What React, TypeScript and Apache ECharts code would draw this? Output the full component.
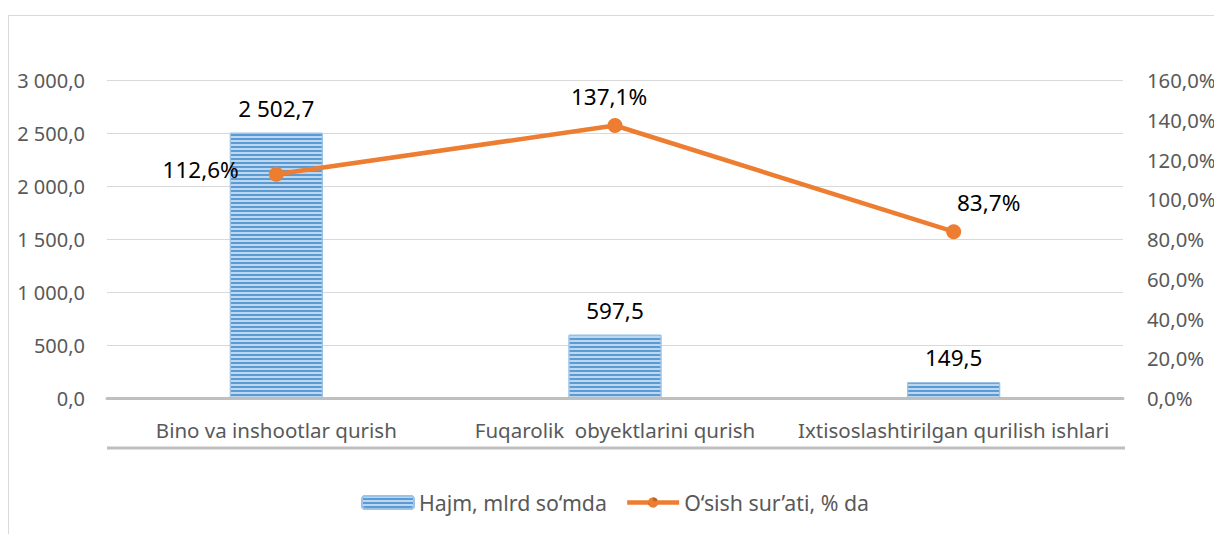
import React, { useEffect, useRef } from "react";
import * as echarts from "echarts";

const categories = [
  "Bino va inshootlar qurish",
  "Fuqarolik  obyektlarini qurish",
  "Ixtisoslashtirilgan qurilish ishlari",
];
const volumeValues = [2502.7, 597.5, 149.5];
const growthValues = [112.6, 137.1, 83.7];
const seriesNames = ["Hajm, mlrd so‘mda", "O‘sish sur’ati, % da"];

const FONT = "'Noto Sans', sans-serif";

function fmt(v: number, d: number): string {
  const s = Math.abs(v).toFixed(d);
  const [ip, dp] = s.split(".");
  const withSp = ip.replace(/\B(?=(\d{3})+(?!\d))/g, " ");
  return (v < 0 ? "-" : "") + withSp + (dp !== undefined ? "," + dp : "");
}

export default function App() {
  const ref = useRef<HTMLDivElement>(null);
  useEffect(() => {
    if (!ref.current) return;
    const chart = echarts.init(ref.current, undefined, { renderer: "svg" });
    const lineOffsets: [number, number][] = [[0, -5], [-6, 0], [35, 0]];
    const linePositions = ["left", "top", "top"];
    chart.setOption({
      animation: false,
      aria: { enabled: true, decal: { show: true } },
      textStyle: { fontFamily: FONT },
      grid: { left: 99, right: 99, top: 72, bottom: 136, containLabel: false },
      legend: {
        top: 479,
        left: "center",
        itemWidth: 52,
        itemHeight: 13,
        itemGap: 18,
        textStyle: { fontSize: 21.3, color: "#595959", fontFamily: FONT },
        data: [
          { name: seriesNames[0] },
          { name: seriesNames[1], lineStyle: { width: 4.5, color: "#ed7d31" } },
        ],
      },
      xAxis: {
        type: "category",
        data: categories,
        axisLine: { lineStyle: { color: "#bfbfbf", width: 3 } },
        axisTick: { show: false },
        axisLabel: { interval: 0, fontSize: 20.5, color: "#595959", margin: 21, fontFamily: FONT },
      },
      yAxis: [
        {
          type: "value",
          min: 0,
          max: 3000,
          interval: 500,
          axisLine: { show: false },
          axisTick: { show: false },
          splitLine: { lineStyle: { color: "#d9d9d9", width: 1 } },
          axisLabel: {
            fontSize: 20,
            color: "#595959",
            margin: 22,
            fontFamily: FONT,
            formatter: (v: number) => fmt(v, 1),
          },
        },
        {
          type: "value",
          min: 0,
          max: 160,
          interval: 20,
          axisLine: { show: false },
          axisTick: { show: false },
          splitLine: { show: false },
          axisLabel: {
            fontSize: 20.3,
            color: "#595959",
            margin: 24,
            fontFamily: FONT,
            formatter: (v: number) => fmt(v, 1) + "%",
          },
        },
      ],
      series: [
        {
          name: seriesNames[0],
          type: "bar",
          yAxisIndex: 0,
          barWidth: 93,
          data: volumeValues,
          itemStyle: {
            color: "#5b9bd5",
            borderColor: "#9dc3e6",
            borderWidth: 1,
            decal: {
              symbol: "rect",
              symbolSize: 1,
              color: "#bdd7ee",
              dashArrayX: [1, 0],
              dashArrayY: [2, 2],
              rotation: 0,
            },
          },
          label: {
            show: true,
            position: "top",
            distance: 13,
            fontSize: 22.5,
            color: "#000000",
            fontFamily: FONT,
            formatter: (p: any) => fmt(p.value, 1),
          },
        },
        {
          name: seriesNames[1],
          type: "line",
          yAxisIndex: 1,
          symbol: "circle",
          symbolSize: 15,
          lineStyle: { color: "#ed7d31", width: 4.5 },
          itemStyle: { color: "#ed7d31" },
          data: growthValues.map((v, i) => ({
            value: v,
            label: {
              show: true,
              position: linePositions[i],
              offset: lineOffsets[i],
              distance: i === 0 ? 30 : 10,
              fontSize: 22.5,
              color: "#000000",
              fontFamily: FONT,
              formatter: (p: any) => fmt(p.value, 1) + "%",
            },
          })),
        },
      ],
      graphic: [
        {
          type: "line",
          shape: { x1: 0.5, y1: 7, x2: 0.5, y2: 526 },
          style: { stroke: "#d9d9d9", lineWidth: 1 },
        },
        {
          type: "line",
          shape: { x1: 0, y1: 7.5, x2: 1214, y2: 7.5 },
          style: { stroke: "#d9d9d9", lineWidth: 1 },
        },
        {
          type: "line",
          shape: { x1: 99, y1: 440, x2: 1117, y2: 440 },
          style: { stroke: "#bfbfbf", lineWidth: 3 },
        },
      ],
    });
    return () => chart.dispose();
  }, []);
  return <div ref={ref} style={{ width: 1214, height: 526 }} />;
}
